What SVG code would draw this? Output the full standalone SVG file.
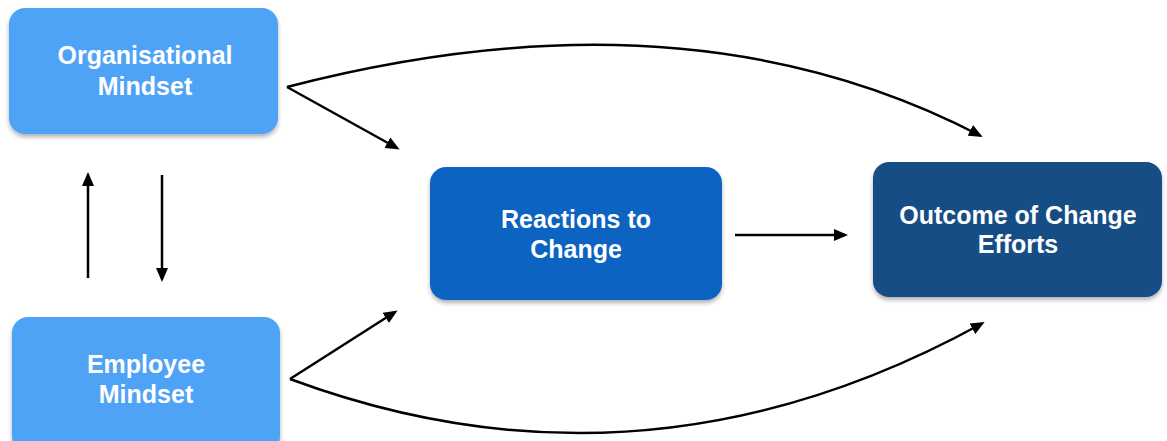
<svg xmlns="http://www.w3.org/2000/svg" width="1167" height="441" viewBox="0 0 1167 441">
<style>
.lbl{font-family:"Liberation Sans",Arial,sans-serif;font-weight:bold;font-size:25px;fill:#ffffff;text-anchor:middle}
.edge{fill:none;stroke:#000;stroke-width:2.5}
</style>
<defs>
<filter id="sh" x="-10%" y="-10%" width="120%" height="130%">
<feDropShadow dx="0" dy="3" stdDeviation="2" flood-color="#000" flood-opacity="0.3"/>
</filter>
<marker id="ah" viewBox="0 0 14 12" refX="11" refY="6" markerWidth="14" markerHeight="12" markerUnits="userSpaceOnUse" orient="auto">
<path d="M0,0 L14,6 L0,12 Z" fill="#000"/>
</marker>
</defs>
<rect width="1167" height="441" fill="#ffffff"/>
<g id="org">
<rect x="9" y="8" width="269" height="126" rx="16" fill="#4FA3F7" filter="url(#sh)"/>
<text class="lbl" x="145" y="64">Organisational</text>
<text class="lbl" x="145" y="95">Mindset</text>
</g>
<g id="emp">
<rect x="12" y="317" width="268" height="136" rx="16" fill="#4FA3F7" filter="url(#sh)"/>
<text class="lbl" x="146" y="373">Employee</text>
<text class="lbl" x="146" y="403">Mindset</text>
</g>
<g id="react">
<rect x="430" y="167" width="292" height="133" rx="16" fill="#0A63C2" filter="url(#sh)"/>
<text class="lbl" x="576" y="228">Reactions to</text>
<text class="lbl" x="576" y="258">Change</text>
</g>
<g id="outcome">
<rect x="873" y="162" width="289" height="135" rx="16" fill="#174E85" filter="url(#sh)"/>
<text class="lbl" x="1018" y="224">Outcome of Change</text>
<text class="lbl" x="1018" y="253">Efforts</text>
</g>
<g id="connectors">
<path class="edge" d="M287,87 L397,148" marker-end="url(#ah)"/>
<path class="edge" d="M287,87 Q687,-17 980,135.5" marker-end="url(#ah)"/>
<path class="edge" d="M290,379 L395,312" marker-end="url(#ah)"/>
<path class="edge" d="M290,379 Q643,510 982,323.5" marker-end="url(#ah)"/>
<path class="edge" d="M735,235 L845,235" marker-end="url(#ah)"/>
<path class="edge" d="M88,278 L88,175" marker-end="url(#ah)"/>
<path class="edge" d="M162,175 L162,279" marker-end="url(#ah)"/>
</g>
</svg>
